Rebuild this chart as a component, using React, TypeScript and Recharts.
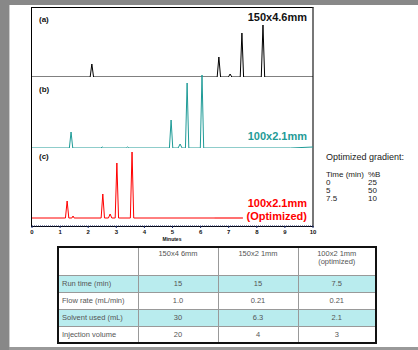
import React from "react";
import { LineChart, Line, XAxis, YAxis } from "recharts";

// retention time (min) vs detector signal
const traceA: [number, number][] = [
  [0, 0], [2.07, 0], [2.13, 13], [2.19, 0], [6.59, 0], [6.65, 20], [6.71, 0],
  [6.99, 0], [7.05, 3], [7.11, 0], [7.41, 0], [7.47, 44], [7.53, 0],
  [8.16, 0], [8.22, 52], [8.28, 0], [10, 0],
];
const traceB: [number, number][] = [
  [0, 0], [1.33, 0], [1.39, 16], [1.45, 0], [2.45, 0], [2.5, 1], [2.55, 0],
  [3.35, 0], [3.4, 1], [3.45, 0], [4.89, 0], [4.95, 28], [5.01, 0],
  [5.2, 0], [5.27, 4], [5.34, 0], [5.46, 0], [5.52, 65], [5.58, 0],
  [5.99, 0], [6.05, 73], [6.11, 0], [9.2, 0], [10, 1],
];
const traceC: [number, number][] = [
  [0, 0], [1.19, 0], [1.25, 17], [1.31, 0], [1.42, 0], [1.46, 2], [1.5, 0],
  [2.46, 0], [2.52, 24], [2.58, 0], [2.72, 0], [2.78, 4], [2.84, 0],
  [2.96, 0], [3.02, 55], [3.08, 0], [3.5, 0], [3.56, 66], [3.62, 0], [7.5, 0],
];
const traceCEnd: [number, number][] = [[6.5, 0], [7.5, 0]];

const minuteTicks = [0, 1, 2, 3, 4, 5, 6, 7, 8, 9, 10];

const gradientTimes = ["0", "5", "7.5"];
const gradientB = ["25", "50", "10"];

const tableColumns = ["150x4 6mm", "150x2 1mm", "100x2 1mm\n(optimized)"];
const tableRows = ["Run time (min)", "Flow rate (mL/min)", "Solvent used (mL)", "Injection volume"];
const tableValues = [
  ["15", "15", "7.5"],
  ["1.0", "0.21", "0.21"],
  ["30", "6.3", "2.1"],
  ["20", "4", "3"],
];

const toPoints = (arr: [number, number][]) => arr.map(([t, s]) => ({ t, s }));

const font = '"Liberation Sans", Arial, sans-serif';

const abs = (left: number, top: number, extra: React.CSSProperties = {}): React.CSSProperties => ({
  position: "absolute",
  left,
  top,
  ...extra,
});

export default function App() {
  return (
    <div style={abs(0, 0, { width: 418, height: 350, background: "#fff", overflow: "hidden", fontFamily: font })}>
      {/* page frame */}
      <div style={abs(0, 0, { width: 418, height: 5, background: "#888" })} />
      <div style={abs(0, 0, { width: 9, height: 350, background: "#888" })} />
      <div style={abs(9, 5, { width: 1, height: 345, background: "#ccc" })} />
      <div style={abs(9, 347, { width: 409, height: 3, background: "#999" })} />

      {/* chromatogram box */}
      <div
        style={abs(31, 7, {
          width: 283,
          height: 220,
          boxSizing: "border-box",
          border: "1px solid #000",
          borderRight: "2px solid #777",
        })}
      />

      <div style={abs(32, 7)}>
        <LineChart width={281} height={70} data={toPoints(traceA)} margin={{ top: 0, right: 0, bottom: 0, left: 0 }}>
          <XAxis dataKey="t" type="number" domain={[0, 10]} hide />
          <YAxis type="number" domain={[0, 70]} hide />
          <Line dataKey="s" type="linear" stroke="#000" strokeWidth={1} dot={false} isAnimationActive={false} />
        </LineChart>
      </div>

      <div style={abs(32, 67)}>
        <LineChart width={281} height={81} data={toPoints(traceB)} margin={{ top: 0, right: 0, bottom: 0, left: 0 }}>
          <XAxis dataKey="t" type="number" domain={[0, 10]} hide />
          <YAxis type="number" domain={[0, 81]} hide />
          <Line dataKey="s" type="linear" stroke="#1f9b97" strokeWidth={1} dot={false} isAnimationActive={false} />
        </LineChart>
      </div>

      <div style={abs(24, 148)}>
        <LineChart width={297} height={94} data={toPoints(traceC)} margin={{ top: 0, right: 8, bottom: 0, left: 8 }}>
          <XAxis
            dataKey="t"
            type="number"
            domain={[0, 10]}
            ticks={minuteTicks}
            interval={0}
            height={16}
            tickSize={2}
            axisLine={{ stroke: "#1c2a6b", strokeDasharray: "1 1" }}
            tickLine={{ stroke: "#1c2a6b" }}
            tick={{ fontSize: 6, fontWeight: 700, fill: "#111", fontFamily: font }}
          />
          <YAxis type="number" domain={[-8, 70]} hide />
          <Line dataKey="s" type="linear" stroke="#ff0000" strokeWidth={1} dot={false} isAnimationActive={false} />
          <Line
            data={toPoints(traceCEnd)}
            dataKey="s"
            type="linear"
            stroke="#ff7070"
            strokeWidth={2}
            dot={false}
            isAnimationActive={false}
          />
        </LineChart>
      </div>

      {/* panel labels */}
      <div style={abs(39, 15, { fontSize: 8, fontWeight: 700, color: "#111" })}>(a)</div>
      <div style={abs(39, 85, { fontSize: 8, fontWeight: 700, color: "#111" })}>(b)</div>
      <div style={abs(39, 152, { fontSize: 8, fontWeight: 700, color: "#111" })}>(c)</div>

      <div style={abs(200, 11, { width: 107, textAlign: "right", fontSize: 11, fontWeight: 700, color: "#111" })}>
        150x4.6mm
      </div>
      <div style={abs(200, 130, { width: 107, textAlign: "right", fontSize: 11, fontWeight: 700, color: "#1f9b97" })}>
        100x2.1mm
      </div>
      <div
        style={abs(200, 197, {
          width: 107,
          textAlign: "right",
          fontSize: 11,
          fontWeight: 700,
          color: "#ff0000",
          lineHeight: "13px",
        })}
      >
        100x2.1mm
        <br />
        (Optimized)
      </div>

      <div style={abs(152, 236, { width: 40, textAlign: "center", fontSize: 5, fontWeight: 700, color: "#111" })}>
        Minutes
      </div>

      {/* gradient text */}
      <div style={abs(326, 152, { fontSize: 9, color: "#222" })}>Optimized gradient:</div>
      {["Time (min)", ...gradientTimes].map((t, i) => (
        <React.Fragment key={t}>
          <div style={abs(326, 171 + i * 8, { fontSize: 8, color: "#222", lineHeight: "8px" })}>{t}</div>
          <div style={abs(368, 171 + i * 8, { fontSize: 8, color: "#222", lineHeight: "8px" })}>
            {i === 0 ? "%B" : gradientB[i - 1]}
          </div>
        </React.Fragment>
      ))}

      {/* comparison table */}
      <table
        style={abs(57, 246, {
          width: 318,
          borderCollapse: "collapse",
          border: "2px solid #111",
          fontSize: 7.5,
          color: "#555",
          tableLayout: "fixed",
        })}
      >
        <colgroup>
          <col style={{ width: 80 }} />
          <col style={{ width: 80 }} />
          <col style={{ width: 80 }} />
          <col style={{ width: 78 }} />
        </colgroup>
        <tbody>
          <tr style={{ height: 28 }}>
            <td style={{ border: "1px solid #999" }} />
            {tableColumns.map((c) => (
              <td
                key={c}
                style={{
                  border: "1px solid #999",
                  textAlign: "center",
                  verticalAlign: "top",
                  padding: "2px 2px",
                  whiteSpace: "pre-line",
                  lineHeight: "8px",
                }}
              >
                {c}
              </td>
            ))}
          </tr>
          {tableRows.map((r, i) => (
            <tr key={r} style={{ height: 17, background: i % 2 === 0 ? "#b9ecee" : "#fff" }}>
              <td style={{ border: "1px solid #999", padding: "0 3px", whiteSpace: "nowrap" }}>{r}</td>
              {tableValues[i].map((v, j) => (
                <td key={j} style={{ border: "1px solid #999", textAlign: "center", padding: 0 }}>
                  {v}
                </td>
              ))}
            </tr>
          ))}
        </tbody>
      </table>
    </div>
  );
}
